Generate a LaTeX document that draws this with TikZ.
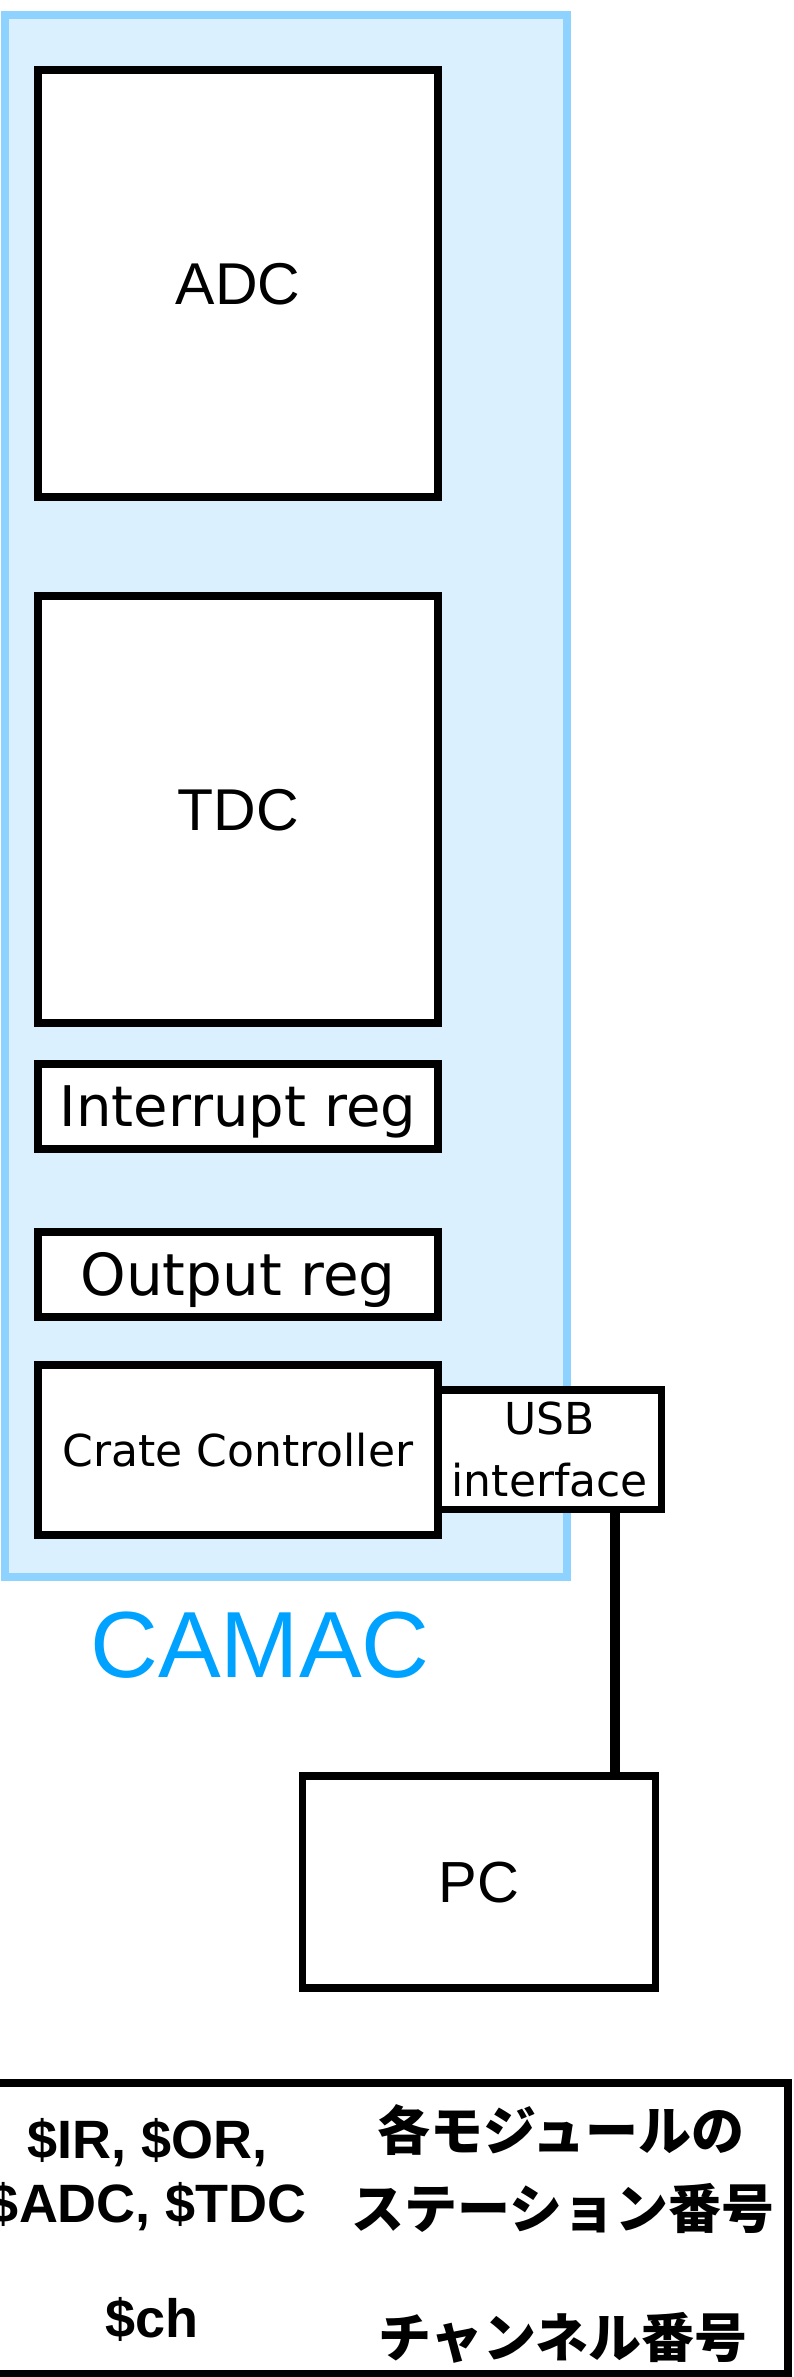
\documentclass[tikz,border=0pt]{standalone}
\usepackage{fontspec}
\setmainfont{Liberation Sans}
\newfontfamily\boxfont{DejaVu Sans}
\newfontfamily\jpfont{Noto Sans CJK JP}
\definecolor{crateFill}{RGB}{219,240,254}
\definecolor{crateEdge}{RGB}{142,211,255}
\definecolor{crateText}{RGB}{0,162,255}

\begin{document}
\begin{tikzpicture}[x=1pt,y=-1pt,
  crate/.style={draw=crateEdge, fill=crateFill, line width=8pt, inner sep=0pt},
  module/.style={draw=black, fill=white, line width=7.5pt, inner sep=0pt,
                 text depth=0pt},
  bigname/.style={font=\fontsize{59}{70}\selectfont, text height=42.2pt},
  regname/.style={font=\boxfont\fontsize{56}{66}\selectfont, text height=40.8pt},
  smallname/.style={font=\boxfont\fontsize{44}{62}\selectfont},
  wire/.style={draw=black, line width=10pt},
  legendbox/.style={draw=black, line width=8pt, inner sep=0pt},
  varname/.style={font=\bfseries\fontsize{54}{66}\selectfont, anchor=base, inner sep=0pt},
  jpname/.style={font=\jpfont\bfseries\fontsize{53}{66}\selectfont, anchor=base, inner sep=0pt}
]
\useasboundingbox (0,0) rectangle (794,2377);

% CAMAC crate
\node[crate, minimum width=562pt, minimum height=1562pt] (camac) at (285.6,796) {};
\node[font=\fontsize{94}{110}\selectfont, text=crateText, anchor=base, inner sep=0pt]
  (camaclabel) at (260,1677) {CAMAC};

% modules in the crate
\node[module, bigname, minimum width=400pt, minimum height=427pt] (adc) at (238,283.5) {ADC};
\node[module, bigname, minimum width=400pt, minimum height=427pt] (tdc) at (238,809.5) {TDC};
\node[module, regname, minimum width=400pt, minimum height=85pt] (ireg) at (238,1106.5) {Interrupt reg};
\node[module, regname, font=\boxfont\fontsize{58}{68}\selectfont, text height=42.3pt,
      minimum width=400pt, minimum height=85pt] (oreg) at (238,1274.5) {Output reg};
\node[module, smallname, text height=32.4pt, minimum width=400pt, minimum height=170pt]
  (cc) at (238,1450) {Crate Controller};
\node[module, smallname, align=center, text height=94pt, minimum width=223.7pt, minimum height=119.5pt]
  (usb) at (549.85,1449.75) {USB\\interface};

% host computer
\node[module, bigname, font=\fontsize{58}{70}\selectfont, text height=41.5pt,
      minimum width=353pt, minimum height=212pt] (pc) at (479,1882) {PC};

% cable from the USB interface down to the PC
\coordinate (tap) at (615,0);
\draw[wire] (usb.south -| tap) -- (pc.north -| tap);

% legend of variable names
\node[legendbox, minimum width=807.5pt, minimum height=291pt] (legend) at (383.75,2228.5) {};
\node[varname] (vmod1) at (148,2158) {\$IR, \$OR,};
\node[varname] (vmod2) at (148,2222) {\$ADC, \$TDC};
\node[varname] (vch) at (152,2337) {\$ch};
\node[jpname] (jmod1) at (561,2150) {各モジュールの};
\node[jpname] (jmod2) at (563,2228) {ステーション番号};
\node[jpname] (jch) at (563,2357) {チャンネル番号};
\end{tikzpicture}
\end{document}
